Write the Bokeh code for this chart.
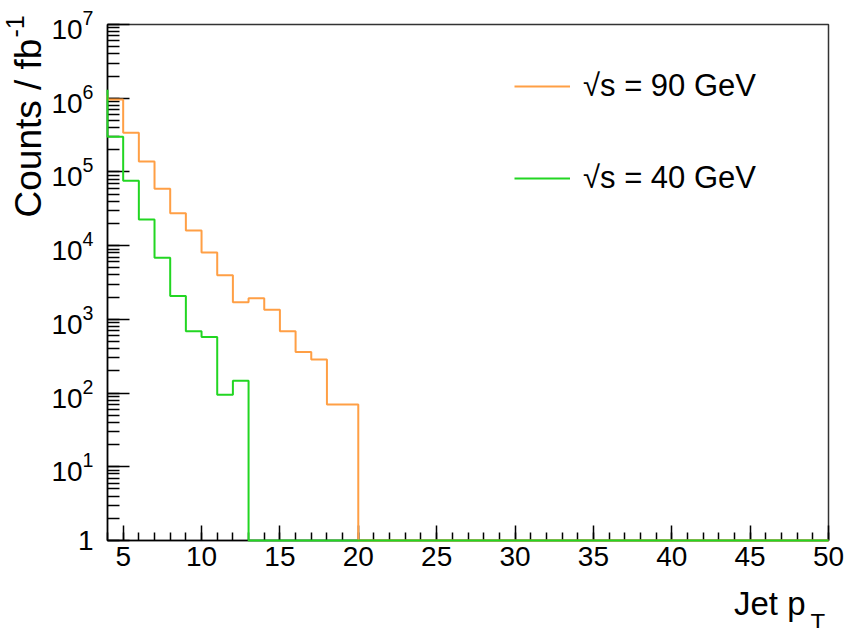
import numpy as np
from bokeh.plotting import figure
from bokeh.models import (LogTicker, LogTickFormatter, SingleIntervalTicker,
                          Legend, LegendItem, Range1d)
from bokeh.core.properties import value
from bokeh.embed import file_html
from bokeh.resources import INLINE

# ---- data ----
bin_edges = list(range(3, 51))  # 1 GeV bins from 3 to 50 (axis shown from 4)
counts_90 = [1.1e6, 9.6e5, 3.4e5, 1.39e5, 5.9e4, 2.76e4, 1.6e4, 8.1e3, 3.96e3, 1.70e3,
             1.93e3, 1.35e3, 6.9e2, 3.6e2, 2.85e2, 70, 70] + [0] * 30
counts_40 = [1.3e6, 3.0e5, 7.6e4, 2.27e4, 6.85e3, 2.07e3, 6.9e2, 5.75e2, 95, 147] + [0] * 37
label_90 = "√s = 90 GeV"
label_40 = "√s = 40 GeV"
x_title = "Jet p"
x_title_sub = "T"
y_title = "Counts / fb"
y_title_sup = "-1"

X_MIN, X_MAX = 4, 50
Y_MIN, Y_MAX = 1, 1e7

ORANGE = "#ff9f45"
GREEN = "#22d622"
FONT = "Liberation Sans"

W, H = 846, 628
FL, FR, FT, FB = 107, 828, 24, 540  # frame edges in px


def outline(edges, vals, floor, xmin):
    v = [c if c > 0 else floor for c in vals]
    i0 = next(i for i, e in enumerate(edges) if e >= xmin)
    xs = [edges[i0]]
    ys = [v[i0 - 1] if i0 > 0 else floor]
    for i in range(i0, len(v)):
        xs += [edges[i], edges[i + 1]]
        ys += [v[i], v[i]]
    xs.append(edges[-1])
    ys.append(floor)
    return xs, ys


p = figure(width=W, height=H, output_backend="svg", toolbar_location=None,
           y_axis_type="log", x_range=Range1d(X_MIN, X_MAX), y_range=Range1d(Y_MIN, Y_MAX),
           min_border_left=FL, min_border_right=W - FR, min_border_top=FT,
           min_border_bottom=H - FB)
p.background_fill_color = "white"
p.border_fill_color = "white"
p.outline_line_color = "#333333"
p.outline_line_width = 1.5
p.xgrid.visible = False
p.ygrid.visible = False

x90, y90 = outline(bin_edges, counts_90, Y_MIN, X_MIN)
x40, y40 = outline(bin_edges, counts_40, Y_MIN, X_MIN)
r90 = p.line(x90, y90, line_color=ORANGE, line_width=2, level="overlay")
r40 = p.line(x40, y40, line_color=GREEN, line_width=2, level="overlay")

# axes
xa = p.xaxis[0]
xa.ticker = SingleIntervalTicker(interval=5, num_minor_ticks=5)
xa.major_tick_in = 15
xa.major_tick_out = 0
xa.minor_tick_in = 8
xa.minor_tick_out = 0
xa.major_label_standoff = 6
ya = p.yaxis[0]
ya.ticker = LogTicker(num_minor_ticks=10)
ya.formatter = LogTickFormatter(min_exponent=1)
ya.major_tick_in = 22
ya.major_tick_out = 0
ya.minor_tick_in = 12
ya.minor_tick_out = 0
ya.major_label_standoff = 14
for ax in (xa, ya):
    ax.axis_line_width = 1.5
    ax.axis_line_color = "black"
    ax.major_tick_line_width = 1.5
    ax.minor_tick_line_width = 1.5
    ax.major_tick_line_color = "black"
    ax.minor_tick_line_color = "black"
    ax.major_label_text_font = FONT
    ax.major_label_text_font_size = "28px"
    ax.major_label_text_color = "black"


def add_title(text, anchor, dx, dy, size, align="left", angle=0.0):
    # text anchored at a frame corner, shifted by pixel offsets; overlay level so it is
    # not clipped to the frame
    p.text(x=[anchor[0]], y=[anchor[1]], text=[text], x_offset=dx, y_offset=dy,
           angle=angle, text_font=value(FONT), text_font_size=f"{size}px", text_align=align,
           text_baseline="alphabetic", text_color="black", level="overlay")


ROT_SHIFT = 0.45  # empirical baseline shift of rotated text (em)
add_title(x_title, (X_MAX, Y_MIN), 805 - FR, 603 - FB, 33, align="right")
add_title(x_title_sub, (X_MAX, Y_MIN), 810 - FR, 622 - FB, 24)
add_title(y_title, (X_MIN, Y_MAX), 45 - ROT_SHIFT * 37 - FL, 217 - FT, 37, angle=np.pi / 2)
add_title(y_title_sup, (X_MIN, Y_MAX), 26 - ROT_SHIFT * 25 - FL, 37 - FT, 25, angle=np.pi / 2)

legend = Legend(items=[LegendItem(label=label_90, renderers=[r90]),
                       LegendItem(label=label_40, renderers=[r40])],
                location=(407, 339), glyph_width=56, glyph_height=46, label_height=46,
                spacing=46, label_standoff=13, padding=0, margin=0,
                label_text_font=FONT, label_text_font_size="31px", label_text_color="black",
                border_line_color=None, background_fill_alpha=0)
p.add_layout(legend)

open("out.html", "w").write(file_html(p, INLINE))
